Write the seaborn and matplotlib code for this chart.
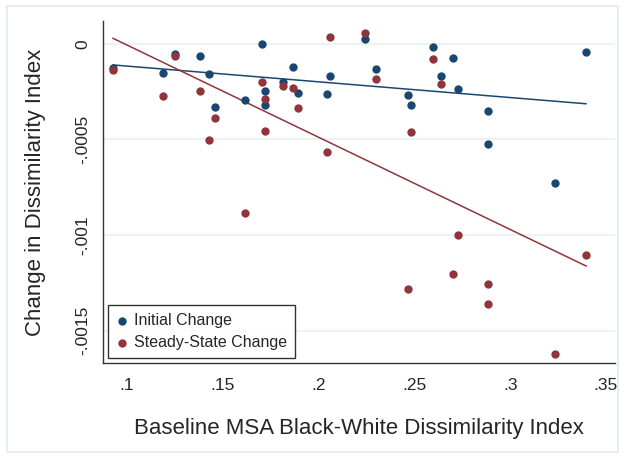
import matplotlib
matplotlib.use("Agg")
import matplotlib.pyplot as plt
from matplotlib.patches import Rectangle
import numpy as np
import pandas as pd
import seaborn as sns

# baseline black-white dissimilarity (one entry per MSA)
baseline = [0.0927, 0.1191, 0.1251, 0.1383, 0.1430, 0.1461, 0.1617, 0.1703,
            0.1722, 0.1722, 0.1814, 0.1866, 0.1892, 0.2042, 0.2061, 0.2244,
            0.2298, 0.2465, 0.2485, 0.2600, 0.2640, 0.2701, 0.2728, 0.2886,
            0.2886, 0.3235, 0.3397]
initial_change = [-0.000124, -0.000150, -0.0000524, -0.0000613, -0.000159,
                  -0.000331, -0.000292, -0.0000016, -0.000246, -0.000321,
                  -0.000201, -0.000123, -0.000258, -0.000263, -0.000166,
                  0.0000277, -0.000131, -0.000267, -0.000318, -0.0000157,
                  -0.000166, -0.0000717, -0.000237, -0.000351, -0.000524,
                  -0.000729, -0.0000419]
steady_change = [-0.000136, -0.000274, -0.0000628, -0.000246, -0.000501,
                 -0.000387, -0.000885, -0.000197, -0.000288, -0.000457,
                 -0.000220, -0.000232, -0.000338, -0.000564, 0.0000351,
                 0.0000576, -0.000182, -0.001284, -0.000461, -0.0000785,
                 -0.000210, -0.001203, -0.001000, -0.001255, -0.001363,
                 -0.001623, -0.001105]

xticks = [0.10, 0.15, 0.20, 0.25, 0.30, 0.35]
xtick_labels = [".1", ".15", ".2", ".25", ".3", ".35"]
yticks = [0, -0.0005, -0.001, -0.0015]
ytick_labels = ["0", "-.0005", "-.001", "-.0015"]

navy = "#1a476f"
maroon = "#90353b"

df = pd.DataFrame({"x": baseline, "init": initial_change, "steady": steady_change})

sns.set_style("white")
plt.rcParams["font.family"] = ["Liberation Sans", "DejaVu Sans"]

fig = plt.figure(figsize=(6.25, 4.58), dpi=100)
ax = fig.add_axes([0.1648, 0.2074, 0.8192, 0.7468])

# light frame around whole graph
fig.patches.append(Rectangle((7 / 625, 6 / 458), 611 / 625, 446 / 458,
                             transform=fig.transFigure, fill=False,
                             edgecolor="#e3eaec", lw=1.2))

for yv in yticks:
    ax.axhline(yv, color="#eaf2f3", lw=1.3, zorder=0)

sns.regplot(data=df, x="x", y="init", ax=ax, ci=None, color=navy,
            scatter_kws={"s": 36, "alpha": 1, "linewidths": 0, "zorder": 3},
            line_kws={"lw": 1.1, "zorder": 2}, label="Initial Change")
sns.regplot(data=df, x="x", y="steady", ax=ax, ci=None, color=maroon,
            scatter_kws={"s": 36, "alpha": 1, "linewidths": 0, "zorder": 4},
            line_kws={"lw": 1.1, "zorder": 2}, label="Steady-State Change")

ax.set_xlim(0.0876, 0.3547)
ax.set_ylim(-0.00167, 0.00012)
ax.set_xticks(xticks)
ax.set_xticklabels(xtick_labels)
ax.set_yticks(yticks)
ax.set_yticklabels(ytick_labels, rotation=90, va="center")
ax.tick_params(axis="both", direction="out", length=5, width=1,
               color="#333333", labelsize=12.5, pad=4)
ax.tick_params(axis="x", pad=6)

for s in ["top", "right"]:
    ax.spines[s].set_visible(False)
for s in ["left", "bottom"]:
    ax.spines[s].set_color("#333333")
    ax.spines[s].set_linewidth(1)

ax.set_xlabel("Baseline MSA Black-White Dissimilarity Index", fontsize=16, labelpad=18)
ax.set_ylabel("Change in Dissimilarity Index", fontsize=16, labelpad=21)

handles, labels = ax.get_legend_handles_labels()
leg = ax.legend(handles[:2], labels[:2],
                loc="lower left", bbox_to_anchor=(0.01, 0.015), borderaxespad=0,
                fontsize=11.5, frameon=True, fancybox=False, handletextpad=0.3,
                handlelength=0.8, labelspacing=0.45, borderpad=0.5)
leg.get_frame().set_edgecolor("black")
leg.get_frame().set_linewidth(1)

fig.savefig("out.png", dpi=100)
